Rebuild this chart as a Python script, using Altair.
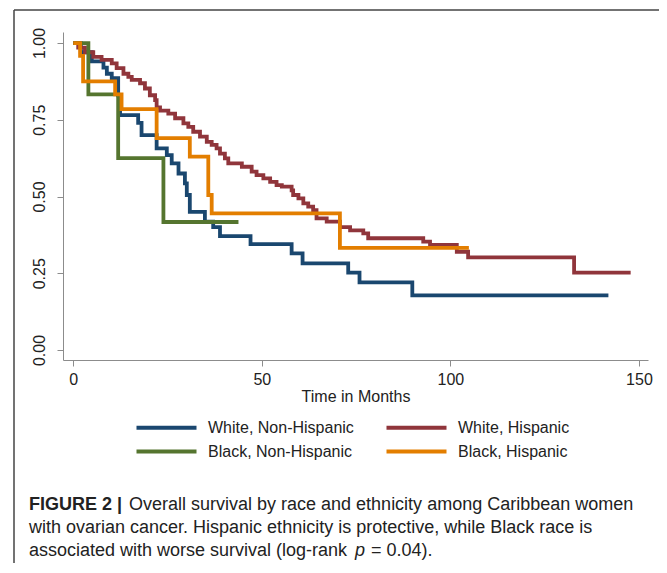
import altair as alt
import pandas as pd

# ---- data (months, survival probability) ----
series_names = ["White, Non-Hispanic", "White, Hispanic", "Black, Non-Hispanic", "Black, Hispanic"]
series_colors = ["#1a476f", "#90353b", "#55752f", "#e37e00"]

months_wnh = [0, 2.0, 4.9, 8.0, 8.9, 10.2, 11.9, 12.4, 17.2, 18.1, 22.1, 24.8, 26.1, 27.9, 29.6,
              30.1, 30.9, 34.9, 37.1, 38.9, 47.0, 57.9, 60.8, 72.9, 75.9, 89.9, 141.9]
surv_wnh = [1.0, 0.97, 0.94, 0.92, 0.90, 0.886, 0.83, 0.765, 0.74, 0.70, 0.657, 0.635, 0.608, 0.575, 0.543,
            0.505, 0.45, 0.418, 0.40, 0.371, 0.345, 0.315, 0.282, 0.252, 0.22, 0.178, 0.178]

months_wh = [0, 1.3, 3.1, 5.3, 7.5, 10.2, 11.5, 13.3, 14.6, 15.5, 17.7, 19.0, 20.3, 21.7, 22.1, 23.0,
             25.2, 27.0, 29.2, 30.5, 31.8, 33.6, 35.4, 36.7, 38.0, 38.9, 40.2, 41.1, 44.7, 47.3,
             48.6, 50.4, 52.2, 53.9, 55.3, 57.9, 58.3, 59.7, 61.0, 62.3, 63.6, 64.5, 67.2, 70.7,
             73.4, 76.9, 78.2, 92.8, 94.6, 101.7, 104.7, 132.8, 147.8]
surv_wh = [1.0, 0.985, 0.97, 0.955, 0.945, 0.934, 0.918, 0.90, 0.89, 0.88, 0.869, 0.852, 0.83, 0.814, 0.79, 0.78,
           0.77, 0.755, 0.738, 0.727, 0.711, 0.695, 0.678, 0.668, 0.657, 0.64, 0.624, 0.608, 0.597, 0.581,
           0.57, 0.559, 0.548, 0.537, 0.532, 0.52, 0.505, 0.494, 0.478, 0.467, 0.456, 0.429, 0.418, 0.40,
           0.39, 0.38, 0.364, 0.353, 0.342, 0.32, 0.302, 0.252, 0.252]

months_bnh = [0, 4.0, 11.9, 23.9, 43.8]
surv_bnh = [1.0, 0.833, 0.625, 0.417, 0.417]

months_bh = [0, 1.8, 2.6, 11.1, 12.8, 22.1, 30.9, 35.8, 36.7, 70.7, 104.9]
surv_bh = [1.0, 0.958, 0.875, 0.833, 0.785, 0.69, 0.63, 0.505, 0.445, 0.333, 0.333]

x_ticks = [0, 50, 100, 150]
y_ticks = [0, 0.25, 0.5, 0.75, 1.0]

caption_bold = "FIGURE 2 |"
caption_1 = "Overall survival by race and ethnicity among Caribbean women"
caption_2 = "with ovarian cancer. Hispanic ethnicity is protective, while Black race is"
caption_3a = "associated with worse survival (log-rank"
caption_3b = "p"
caption_3c = "= 0.04)."

rows = []
for name, ts, ss in zip(series_names,
                        [months_wnh, months_wh, months_bnh, months_bh],
                        [surv_wnh, surv_wh, surv_bnh, surv_bh]):
    for i, (t, s) in enumerate(zip(ts, ss)):
        rows.append({"group": name, "t": t, "s": s, "i": i})
df = pd.DataFrame(rows)

FONT = "Liberation Sans"

lines = alt.Chart(df).mark_line(interpolate="step-after", strokeWidth=3.8).encode(
    x=alt.X("t:Q",
            scale=alt.Scale(domain=[-2.73, 152.4], nice=False, zero=False),
            axis=alt.Axis(values=x_ticks, format="d", title="Time in Months", grid=False,
                          labelFont=FONT, titleFont=FONT,
                          labelFontSize=16, titleFontSize=16, titleFontWeight="normal",
                          labelColor="#222222", titleColor="#222222",
                          domainColor="#8c8c8c", tickColor="#8c8c8c", tickSize=6,
                          labelPadding=5, titlePadding=1, labelFlush=False)),
    y=alt.Y("s:Q",
            scale=alt.Scale(domain=[-0.0326, 1.036], nice=False, zero=False),
            axis=alt.Axis(values=y_ticks, format=".2f", title=None, grid=False,
                          labelFont=FONT,
                          labelAngle=270, labelFontSize=16, labelColor="#222222",
                          domainColor="#8c8c8c", tickColor="#8c8c8c", tickSize=6,
                          labelPadding=10, labelFlush=False)),
    color=alt.Color("group:N",
                    scale=alt.Scale(domain=series_names, range=series_colors),
                    legend=alt.Legend(title=None, orient="none", legendX=64, legendY=386,
                                      columns=2, direction="horizontal",
                                      symbolType="M0,0H8", symbolSize=225, symbolStrokeWidth=4,
                                      labelFont=FONT,
                                      labelFontSize=16, labelColor="#222222", labelLimit=300,
                                      labelOffset=62, columnPadding=23, rowPadding=6, padding=0)),
    order=alt.Order("i:Q"),
)

one = pd.DataFrame({"k": [0]})

frame_left = alt.Chart(one).mark_rule(color="#444444", strokeWidth=1.5).encode(
    x=alt.value(-49), y=alt.value(-22), y2=alt.value(540))
frame_top = alt.Chart(one).mark_rule(color="#444444", strokeWidth=1.5).encode(
    x=alt.value(-49), x2=alt.value(600), y=alt.value(-22))

def cap(txt, xpos, ypos, weight="normal", style="normal"):
    return alt.Chart(one).mark_text(align="left", baseline="alphabetic", font=FONT,
                                    fontSize=18, fontWeight=weight, fontStyle=style,
                                    color="#222222").encode(
        x=alt.value(xpos), y=alt.value(ypos), text=alt.value(txt))

c0 = cap(caption_bold, -34, 478, weight="bold")
c1 = cap(caption_1, 66, 478)
c2 = cap(caption_2, -34, 501)
c3a = cap(caption_3a, -34, 524)
c3b = cap(caption_3b, 292, 524, style="italic")
c3c = cap(caption_3c, 308, 524)

chart = alt.layer(frame_left, frame_top, lines, c0, c1, c2, c3a, c3b, c3c).properties(
    width=585, height=328,
    autosize=alt.AutoSizeParams(type="none"),
    padding={"left": 55, "top": 24, "right": 11, "bottom": 203},
).configure(font=FONT).configure_view(stroke=None)

chart.save("out.html", embed_options={"renderer": "svg", "actions": False})
